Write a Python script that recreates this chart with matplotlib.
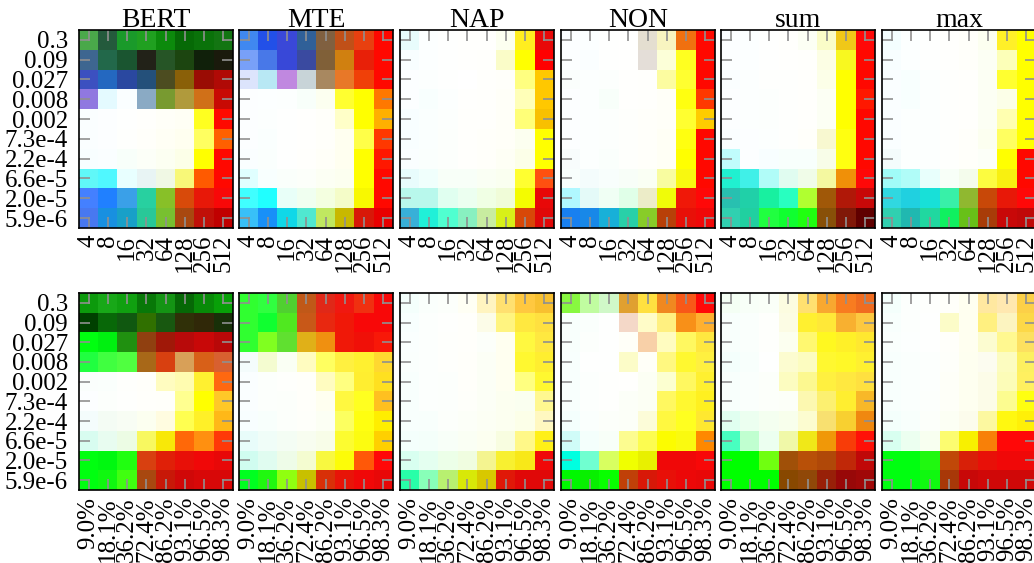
import numpy as np
import matplotlib
matplotlib.use("Agg")
import matplotlib.pyplot as plt
from matplotlib.colors import to_rgb

plt.rcParams["font.family"] = ["Liberation Serif", "DejaVu Serif"]

titles = ["BERT", "MTE", "NAP", "NON", "sum", "max"]
y_labels = ["0.3", "0.09", "0.027", "0.008", "0.002", "7.3e-4", "2.2e-4",
            "6.6e-5", "2.0e-5", "5.9e-6"]
x_labels_top = ["4", "8", "16", "32", "64", "128", "256", "512"]
x_labels_bottom = ["9.0%", "18.1%", "36.2%", "72.4%", "86.2%", "93.1%",
                   "96.5%", "98.3%"]

# cell colours, rows from 0.3 down to 5.9e-6, columns left to right
bert_top = [
    "#4aa84a #245a3c #1a9a2a #20a020 #0c8a0c #066a06 #0a720a #137512",
    "#3e6690 #22684a #1a5530 #222218 #265526 #1c4510 #10200a #1a1a0c",
    "#3c50c0 #2468c0 #2a48a0 #24507a #4c4c20 #8a6008 #9a0c04 #b00a06",
    "#9078e0 #e4faff #fafeff #8aaac4 #789a30 #b09a3c #d07018 #c80a04",
    "#fafeff #fcfeff #fefffe #fffffc #fffff8 #fffff5 #ffff20 #ff0a00",
    "#fafeff #fcfeff #fefffd #fffffa #fffff5 #fffff0 #ffff60 #ff6000",
    "#f8feff #fafeff #f8fffa #fcfff8 #fcfff2 #fcffe8 #ffff00 #ff0800",
    "#60f8f8 #50f8ff #e8ffff #e8f4f4 #f0f8e4 #f8f878 #ff5a00 #ff0800",
    "#4480ff #2080ff #3aa0e8 #28d0a0 #88c028 #d84a0a #e81808 #f80808",
    "#4878f0 #1890e0 #18a0c8 #28c898 #78c030 #a84810 #c01008 #c00000",
]
mte_top = [
    "#4088f0 #2250e8 #3a48d8 #306098 #806040 #c05018 #e84010 #ff0800",
    "#78a0f8 #4878e8 #3848d8 #3a4aa0 #806038 #d08010 #e82008 #ff0800",
    "#dce4fc #b8e8f4 #c088e0 #c8d4d8 #a88860 #e87828 #f04008 #ff0800",
    "#fcfeff #fcffff #fcfffe #f8fffa #fcfff0 #ffff30 #ffff00 #ff7800",
    "#fcfeff #fcfffe #fefffe #fffffd #fffffa #ffffc8 #ffff00 #ffb000",
    "#fcfeff #fafffe #fefffe #fffffd #fffffa #fffff0 #ffff48 #ff3800",
    "#fafeff #fafffd #fefffe #fffffc #fffff8 #fffff0 #ffff00 #ff1800",
    "#e0ffff #f8fffe #fafffb #fcfffa #fcfff4 #fcfff0 #ffff00 #ff0800",
    "#40ffff #20ffff #e8fff8 #f0fff0 #f4ffe0 #f4fcc8 #f8f800 #ff0800",
    "#38c0f8 #1890f8 #10d8e8 #50e8d0 #c0e860 #c8b800 #d81808 #e80000",
]
nap_top = [
    "#e8fcfc #fcffff #fefffe #fffffd #fffffd #fcfff0 #ffee20 #e80808",
    "#f8feff #fcffff #fefffe #fffffd #fffffc #fafcc8 #ffff00 #ff0000",
    "#fcfeff #fcfffe #fefffe #ffffff #fffffc #fffffa #ffff80 #ffc800",
    "#fcfeff #f8fffe #fcfffe #fffffd #fffffc #fffff8 #ffffb8 #ffc800",
    "#f8feff #fafffe #fcfffd #fffffc #fffffc #fffff8 #ffff78 #f8c000",
    "#f8feff #fafffe #fcfffc #fffffc #fffffa #fffff8 #fcfff0 #ffff00",
    "#fafeff #fafffd #fcfffc #fffffc #fffffa #fefff5 #fcffe8 #ffff00",
    "#e8fcfc #f0fffc #f8fff8 #f8fff8 #fafff4 #fafff0 #ffff30 #ff5010",
    "#b8f8ec #b8f8ec #e0fff0 #ecfff0 #f0ffe4 #f0fcd8 #f4fc00 #e80808",
    "#38b0d8 #20f0d8 #50ffd0 #88f0c0 #c8eca0 #d8f018 #d84808 #e00808",
]
non_top = [
    "#fcfeff #fcffff #fefffe #fffffe #e4ded0 #f8f4c0 #f07010 #ff0800",
    "#fcfeff #fafeff #fefffe #fffffe #e4ded8 #fcffd8 #ffff20 #ff0800",
    "#fafefc #fcfffe #fcfffd #fffffd #fffffc #fcfca0 #ffff30 #ff0800",
    "#fcfeff #fcfffe #f8fffa #fffffd #fffffc #fffff8 #ffff10 #ff3800",
    "#fcfeff #fcfffe #fcfffd #fefffc #fffffa #fffff8 #ffff30 #ffcc00",
    "#fcfeff #fcfffe #fcfffd #fefffc #fffffa #fffff5 #ffff10 #ff0800",
    "#f8fcfc #fcfffe #fafffc #fefffc #fffffa #fffff5 #ffff00 #ff0800",
    "#f8fefc #f4fcfc #f8fefc #f8fef8 #fafff4 #f8fca0 #f8f810 #ff0800",
    "#b0f8ff #e4faf8 #f0fff4 #e0ffe8 #ececc8 #f0fc08 #f01808 #ff0808",
    "#1880f0 #1888e8 #18b0d8 #28d0a8 #88cc28 #b84008 #e81008 #f00808",
]
sum_top = [
    "#fcfeff #fcffff #fefffe #fffffc #fcfff4 #fafcc8 #f0c818 #ff0808",
    "#fcfeff #fcffff #fefffe #fffffd #fffffc #fcfee4 #f8f820 #ff0800",
    "#fafeff #fcfffe #fefffd #fefffd #fffffc #fcffe8 #ffff00 #ff0800",
    "#fcfeff #fcfffe #fcfffd #fefffd #fffffc #fcfff4 #ffff00 #ff1800",
    "#fcfeff #fcfffe #fcfffd #fefffd #fffffc #fcfff4 #ffff00 #ff0800",
    "#fafeff #fcfeff #fcfffe #fefffd #fffffa #f8f8d0 #ffff10 #ff0800",
    "#c0fcfc #fcfeff #f8feff #f8fffc #f8fffc #f8fde8 #ffff10 #ff0800",
    "#20f0d0 #40f0e8 #b0fcf8 #e0fcf0 #f0fce8 #f4f8a0 #f09008 #ff0808",
    "#28c0b0 #20d0a8 #18f0a0 #28ffc0 #b0ff30 #a05808 #b01808 #c80808",
    "#30d0b0 #20d0a0 #20ff40 #10ff30 #20ff10 #885008 #801808 #600000",
]
max_top = [
    "#f4feff #fcffff #fefffe #fffffd #fffffa #fcfff0 #fff028 #ffff00",
    "#f8feff #fcffff #fefffe #fffffd #fffffa #fcfff4 #fcffb8 #ffff00",
    "#fafeff #f8fffe #fcfffe #fefffd #fffffc #fcfff4 #ffff30 #ffff00",
    "#fafeff #f8fffe #fcfffe #fefffd #fffffc #fcfff4 #fcffe8 #ffff00",
    "#fafeff #fcfffe #fcfffe #fefffd #fffffc #fcfff4 #ffffb0 #ffff00",
    "#fafeff #fcfffe #fcfffe #fefffd #fffffa #fcfff0 #ffff60 #ffff00",
    "#f4fcfc #fcfffe #fcfffe #fefffd #fffffa #fcfff8 #ffff00 #ff0800",
    "#a0fcf8 #b0fcf8 #e8fffc #f8fff8 #f4fcec #fcfc40 #f8f010 #ff0800",
    "#30d8e0 #20d0e0 #18e0d8 #38f0a8 #90b830 #c84808 #e81808 #ff0808",
    "#30d0b0 #20b8b0 #20d8a0 #10f060 #68c018 #a83c08 #c80808 #c00808",
]
bert_bottom = [
    "#0c9a0c #18a818 #10a010 #087808 #149414 #066806 #088a08 #08a008",
    "#004000 #086808 #105810 #307000 #185810 #303008 #302808 #183008",
    "#00ff10 #00f010 #209010 #904010 #a01808 #b80a0a #c80808 #b80808",
    "#20ff40 #40ff40 #50ff40 #a86818 #d84010 #d8a058 #d86018 #d86030",
    "#fafefc #fafffc #fefffc #fffffa #fffcc0 #fffcb0 #fff030 #ff6810",
    "#fcfeff #fcfffc #fefffd #fffffb #fffffa #ffff90 #ffff00 #ffc828",
    "#f4fcfc #f4fcf4 #f8fdf4 #fcfff0 #fffce0 #ffff50 #fff028 #ffb818",
    "#d8fcf0 #e8fcf0 #ecfce4 #f8f860 #f8e808 #ff6808 #ff9010 #ff3808",
    "#00ff10 #00f810 #20ff10 #d84010 #e02008 #e81008 #f00808 #e80808",
    "#00ff10 #10f810 #40ff10 #a84810 #c81808 #d00808 #d80808 #d80808",
]
mte_bottom = [
    "#30ff30 #30ff40 #50d030 #c05818 #e02818 #f01810 #f03010 #f80808",
    "#30ff30 #10ff30 #50e820 #c85818 #e82810 #f01808 #f80808 #f80808",
    "#30ff30 #80ff20 #60e030 #e0b018 #f09010 #f01808 #f01008 #f81808",
    "#f4fcfc #f4fcd0 #fafff4 #fffcc0 #ffff60 #fff040 #fff030 #ffd830",
    "#fafeff #fcfffc #fefffc #fffffa #fffcc0 #ffff80 #ffee30 #ffe020",
    "#fafeff #fcfffc #fcfffb #fffffa #fffff0 #fff840 #ffff20 #ffc020",
    "#f8feff #f8fffc #fcfffb #fefffa #fcfff4 #fcff60 #ffff10 #ffee00",
    "#e8fcfa #f0fdf8 #f4fdf4 #f8fdf0 #f8fde8 #fcfc30 #fcfc10 #ffd000",
    "#d0fcf0 #e0fcf0 #eefce8 #f4fcd0 #f8f840 #fcfc08 #ff5808 #ff0808",
    "#00ff20 #20f810 #90ff10 #c8c000 #d83008 #e81408 #f00808 #e80808",
]
nap_bottom = [
    "#f4fffc #fafffc #fcfffb #fffff4 #fff4c0 #ffe070 #ffc840 #f8c030",
    "#f8fffe #fcfffd #fefffd #fffffb #fcfce8 #fff480 #ffe840 #ffe040",
    "#fafffe #fcfffd #fefffc #fffffb #fcfffa #fffff0 #fff840 #ffe840",
    "#fafffd #fcfffd #fefffc #fffffa #fcfff6 #fffff0 #fff830 #ffee30",
    "#f8fffd #fcfffd #fcfffc #fffffa #fcfff6 #fffff0 #ffff80 #fff830",
    "#f8fffd #fcfffd #fcfffc #fefffa #fcfff6 #fcfff0 #fafff0 #fff890",
    "#f8fffd #f8fffc #fcfffb #fcfff8 #fcfff4 #fcfff0 #fcffe8 #fff8c0",
    "#f4fffc #f4fffa #f8fff8 #fafff4 #fcfff0 #f8fde0 #fff888 #fff018",
    "#d8fff0 #e4fff0 #ecffe8 #f0fde0 #f4f490 #f8f030 #f8e818 #f00808",
    "#28ffa8 #88ffb8 #b8f070 #d8e808 #d8c800 #e01808 #e00808 #e00808",
]
non_bottom = [
    "#88f840 #c0fca0 #d0f8c8 #e0a030 #ffe040 #f08820 #f85818 #ff0808",
    "#f8fffc #fafffc #fefffe #f4d8c8 #fffcc8 #fff080 #f89018 #ffb030",
    "#f8fffc #fcfffc #fefffe #fffff8 #f8d0a8 #fffcc0 #fff860 #ffe840",
    "#f8fffd #fefffe #fefffe #fcfcc8 #fffff8 #fff880 #fff830 #fff040",
    "#f8fffd #fcfffd #fefffd #fffffd #fcfff4 #fcffd0 #fff860 #fff030",
    "#f8fffd #fcfffd #fefffd #fcfff8 #fcfff4 #fff860 #fff830 #fff020",
    "#f4fffd #fafffd #fcfffa #fcfff8 #fcfcd8 #fff840 #ffff20 #ffe830",
    "#d0fcf8 #f4fffc #f8fff8 #fcfc90 #fcfc50 #fcfc00 #fafa10 #ff8800",
    "#00ffe0 #70ffd0 #d8ff60 #f0ff00 #e8f000 #f00808 #f00808 #f80808",
    "#00f800 #08f000 #08ff00 #c04008 #d81808 #e81008 #ec0808 #e80808",
]
sum_bottom = [
    "#f4fff4 #f8fff8 #fafff8 #fcfce0 #ffe070 #f8a830 #f87c20 #f06c20",
    "#f8fffc #fafffc #fefffc #fcfce4 #fff030 #ffe838 #f8b030 #fcc840",
    "#f8fffc #fafffc #fefffc #fcfff0 #fff870 #fff820 #fff028 #ffe830",
    "#f4fffc #f8fffc #fefffe #fcfcd0 #fcfcc0 #fff830 #fff828 #fff030",
    "#f8fffc #fafffc #fcfffa #fcfcc0 #fcf890 #fff040 #ffe840 #ffe040",
    "#f8fffc #fafffc #fcfffa #fcfff8 #fcf8b0 #fcf070 #ffee30 #f8b828",
    "#e0fff0 #ecfff0 #f4fff0 #f8ffec #fcfcd0 #f8e070 #f8d030 #f08810",
    "#48ffc0 #c0ffd0 #ecfff0 #f0f8a8 #f0e818 #f09808 #f83c08 #ff1008",
    "#00ff00 #00ff00 #70ff10 #a05008 #b85008 #b04808 #c02808 #c00808",
    "#00ff00 #00ff00 #00ff00 #884800 #904808 #982008 #980808 #a00808",
]
max_bottom = [
    "#f4fffc #fcfffd #fefffd #fffffa #fffff0 #ffe8a0 #ffe8b0 #fcd048",
    "#f8fffd #fcfffd #fefffe #fcfcc8 #fffff0 #fff080 #fcf4c0 #fcd848",
    "#fafffd #fcfffe #fefffe #fffffa #fffff0 #fcfcd0 #fff890 #fce060",
    "#f8fffd #fafffd #fcfffd #fefffa #fefff0 #fcfcf0 #fcfcc0 #fcf060",
    "#f8fffd #fafffd #fcfffd #fefff8 #fefff0 #fcfce8 #fcfcb8 #fff060",
    "#f8fffd #fafffd #fcfffc #fefff8 #fefff0 #fcfce8 #fcfc90 #ffff10",
    "#f4fffc #f8fffc #fcfffa #fcfff4 #fcfcec #fcf8a0 #fff810 #fff008",
    "#d8fff0 #ecfff0 #f8fff0 #fcfc70 #f8f000 #f88008 #ff0808 #ff0808",
    "#00ff10 #00ff10 #20f810 #c04808 #d82008 #e81008 #f00808 #f00808",
    "#00ff10 #00ff10 #10f810 #a83808 #c80808 #d00808 #d00808 #d00808",
]

top_row = [bert_top, mte_top, nap_top, non_top, sum_top, max_top]
bottom_row = [bert_bottom, mte_bottom, nap_bottom, non_bottom, sum_bottom, max_bottom]


def to_image(rows):
    return np.array([[to_rgb(c) for c in r.split()] for r in rows])


fig = plt.figure(figsize=(10.34, 5.63), dpi=100)

lefts = [79, 239, 400, 561, 721, 882]
W, H = 1034.0, 563.0
panel_w = 154
rows_px = [(30, 228), (293, 490)]

for r, (panels, xlabels) in enumerate([(top_row, x_labels_top), (bottom_row, x_labels_bottom)]):
    y0, y1 = rows_px[r]
    for c, data in enumerate(panels):
        ax = fig.add_axes([lefts[c] / W, 1 - y1 / H, panel_w / W, (y1 - y0) / H])
        ax.imshow(to_image(data), aspect="auto", interpolation="nearest")
        ax.set_xticks(range(8))
        ax.set_xticklabels(xlabels, rotation=90, fontsize=18)
        ax.set_yticks(range(10))
        if c == 0:
            ax.set_yticklabels(y_labels, fontsize=18)
        else:
            ax.set_yticklabels([])
        ax.tick_params(direction="in", length=8, width=1.2, color="#909090",
                       top=True, right=True)
        ax.tick_params(axis="y", pad=8)
        ax.tick_params(axis="x", pad=5)
        for s in ax.spines.values():
            s.set_linewidth(1.2)
            s.set_color("black")
        if r == 0:
            ax.set_title(titles[c], fontsize=20, pad=2)

fig.savefig("out.png", dpi=100)
